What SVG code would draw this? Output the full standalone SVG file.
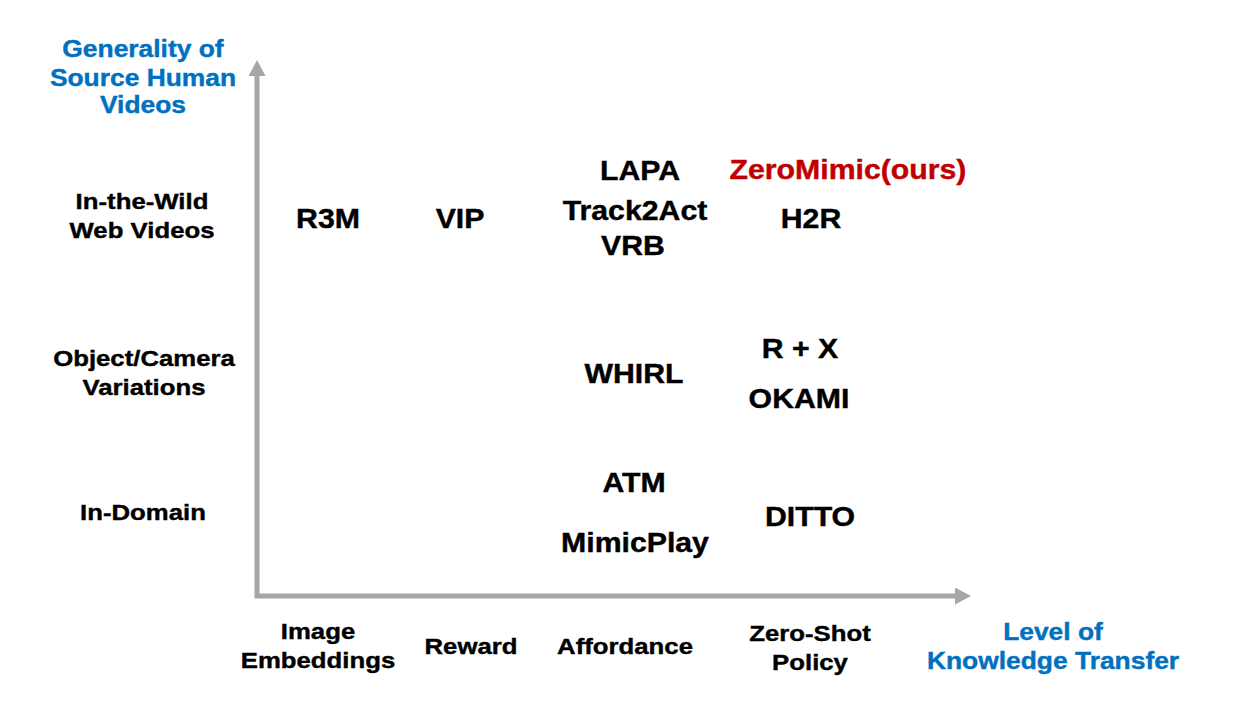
<svg xmlns="http://www.w3.org/2000/svg" width="1258" height="710" viewBox="0 0 1258 710">
<style>
text{font-family:"Liberation Sans",Arial,sans-serif;font-weight:bold;text-anchor:middle;stroke-width:0.4px}
.ax{font-size:24px;fill:#0070C0;stroke:#0070C0}
.lb{font-size:23px;fill:#000;stroke:#000}
.en{font-size:27.5px;fill:#000;stroke:#000}
.ours{font-size:27.5px;fill:#C00000;stroke:#C00000}
.axis{fill:none;stroke:#A6A6A6;stroke-width:5;stroke-linejoin:miter}
</style>
<defs>
<marker id="arr" viewBox="0 0 16 17" markerUnits="userSpaceOnUse" markerWidth="16" markerHeight="17" refX="0" refY="8.5" orient="auto-start-reverse">
<path d="M0,0 L16,8.5 L0,17 z" fill="#A6A6A6"/>
</marker>
</defs>
<rect width="1258" height="710" fill="#fff"/>
<g id="connectors">
<path class="axis" d="M257,76 L257,596 L955,596" marker-start="url(#arr)" marker-end="url(#arr)"/>
</g>
<g id="y-axis-title">
<text class="ax" transform="translate(143,57) scale(1.1,1)">Generality of</text>
<text class="ax" transform="translate(143,86) scale(1.1,1)">Source Human</text>
<text class="ax" transform="translate(143,113) scale(1.1,1)">Videos</text>
</g>
<g id="x-axis-title">
<text class="ax" transform="translate(1053,640) scale(1.1,1)">Level of</text>
<text class="ax" transform="translate(1053,669) scale(1.1,1)">Knowledge Transfer</text>
</g>
<g id="row-wild">
<text class="lb" transform="translate(142,209) scale(1.12,1)">In-the-Wild</text>
<text class="lb" transform="translate(142,238) scale(1.12,1)">Web Videos</text>
</g>
<g id="row-object">
<text class="lb" transform="translate(144,366) scale(1.12,1)">Object/Camera</text>
<text class="lb" transform="translate(144,395) scale(1.12,1)">Variations</text>
</g>
<g id="row-domain">
<text class="lb" transform="translate(143,520) scale(1.12,1)">In-Domain</text>
</g>
<g id="col-image">
<text class="lb" transform="translate(318,639) scale(1.12,1)">Image</text>
<text class="lb" transform="translate(318,668) scale(1.12,1)">Embeddings</text>
</g>
<g id="col-reward">
<text class="lb" transform="translate(471,654) scale(1.12,1)">Reward</text>
</g>
<g id="col-affordance">
<text class="lb" transform="translate(625,654) scale(1.12,1)">Affordance</text>
</g>
<g id="col-policy">
<text class="lb" transform="translate(810,641) scale(1.12,1)">Zero-Shot</text>
<text class="lb" transform="translate(810,670) scale(1.12,1)">Policy</text>
</g>
<g id="R3M"><text class="en" transform="translate(328,228) scale(1.1,1)">R3M</text></g>
<g id="VIP"><text class="en" transform="translate(460,228) scale(1.1,1)">VIP</text></g>
<g id="LAPA"><text class="en" transform="translate(640,180) scale(1.1,1)">LAPA</text></g>
<g id="Track2Act"><text class="en" transform="translate(635,220) scale(1.1,1)">Track2Act</text></g>
<g id="VRB"><text class="en" transform="translate(633,255) scale(1.1,1)">VRB</text></g>
<g id="ZeroMimic"><text class="ours" transform="translate(848,179) scale(1.1,1)">ZeroMimic(ours)</text></g>
<g id="H2R"><text class="en" transform="translate(811,228) scale(1.1,1)">H2R</text></g>
<g id="RX"><text class="en" transform="translate(800,358) scale(1.1,1)">R + X</text></g>
<g id="WHIRL"><text class="en" transform="translate(634,383) scale(1.1,1)">WHIRL</text></g>
<g id="OKAMI"><text class="en" transform="translate(799,408) scale(1.1,1)">OKAMI</text></g>
<g id="ATM"><text class="en" transform="translate(634,492) scale(1.1,1)">ATM</text></g>
<g id="DITTO"><text class="en" transform="translate(810,526) scale(1.1,1)">DITTO</text></g>
<g id="MimicPlay"><text class="en" transform="translate(635,552) scale(1.1,1)">MimicPlay</text></g>
</svg>
